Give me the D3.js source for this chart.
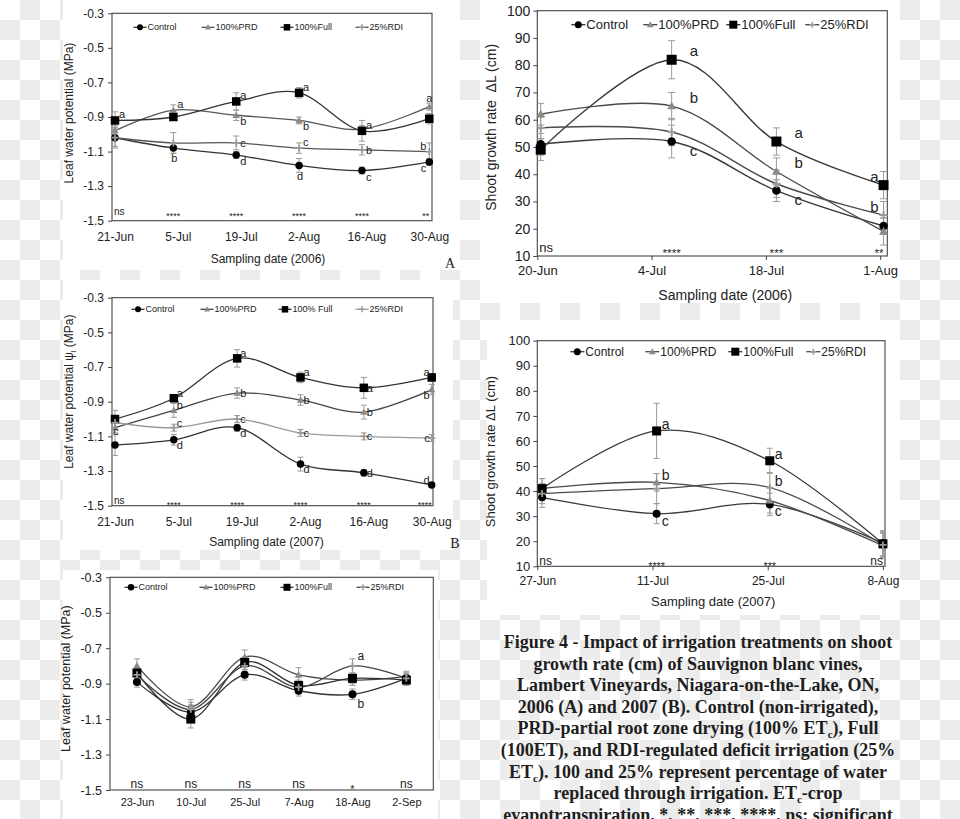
<!DOCTYPE html>
<html><head><meta charset="utf-8">
<script src="https://cdn.jsdelivr.net/npm/d3@7"></script>
<style>body{margin:0;background:#fff;} svg{display:block;}</style>
</head><body><svg id="c" width="960" height="819"></svg>
<script>
// ---------------- DATA ----------------
const seriesNames = ["Control", "100%PRD", "100%Full", "25%RDI"];
const seriesNamesB = ["Control", "100%PRD", "100% Full", "25%RDI"];
const yTicksLWP = [-0.3, -0.5, -0.7, -0.9, -1.1, -1.3, -1.5];
const yTicksGrowth = [10, 20, 30, 40, 50, 60, 70, 80, 90, 100];

// Panel A: leaf water potential 2006
const tickDatesA = ["2006-06-21", "2006-07-05", "2006-07-19", "2006-08-02", "2006-08-16", "2006-08-30"];
const sampleDatesA = ["2006-06-21", "2006-07-04", "2006-07-18", "2006-08-01", "2006-08-15", "2006-08-30"];
const controlA = [-1.02, -1.08, -1.12, -1.18, -1.21, -1.16];
const prdA = [-0.98, -0.86, -0.89, -0.92, -0.97, -0.84];
const fullA = [-0.92, -0.90, -0.81, -0.76, -0.98, -0.91];
const rdiA = [-1.02, -1.05, -1.05, -1.08, -1.09, -1.10];
const controlErrA = [0.05, 0.03, 0.02, 0.04, 0.02, 0.02];
const prdErrA = [0.03, 0.03, 0.03, 0.02, 0.02, 0.02];
const fullErrA = [0.05, 0.02, 0.05, 0.03, 0.06, 0.03];
const rdiErrA = [0.06, 0.06, 0.04, 0.03, 0.03, 0.05];
const controlLetA = ["", "b", "d", "d", "c", "c"];
const prdLetA = ["", "a", "b", "b", "", "a"];
const fullLetA = ["a", "", "a", "a", "a", ""];
const rdiLetA = ["", "", "c", "c", "b", "b"];
const sigA = ["ns", "****", "****", "****", "****", "**"];

// Panel top-right: shoot growth 2006
const tickDatesG6 = ["2006-06-20", "2006-07-04", "2006-07-18", "2006-08-01"];
const sampleDatesG6 = ["2006-06-20T10:00", "2006-07-06T11:00", "2006-07-19T07:00", "2006-08-01T10:00"];
const controlG6 = [51, 52, 34, 21];
const prdG6 = [62, 65, 41, 19];
const fullG6 = [49, 82, 52, 36];
const rdiG6 = [57, 55.5, 36.5, 25];
const controlErrG6 = [4, 6, 4, 3];
const prdErrG6 = [4, 5, 5, 5];
const fullErrG6 = [4, 7, 5, 5];
const rdiErrG6 = [4, 5, 5, 5];
const controlLetG6 = ["", "c", "c", ""];
const prdLetG6 = ["", "b", "b", ""];
const fullLetG6 = ["", "a", "a", "a"];
const rdiLetG6 = ["", "", "", "b"];
const sigG6 = ["ns", "****", "***", "**"];

// Panel B: leaf water potential 2007
const tickDatesB = ["2007-06-21", "2007-07-05", "2007-07-19", "2007-08-02", "2007-08-16", "2007-08-30"];
const sampleDatesB = ["2007-06-21", "2007-07-04", "2007-07-18", "2007-08-01", "2007-08-15", "2007-08-30"];
const controlB = [-1.15, -1.12, -1.05, -1.26, -1.31, -1.38];
const prdB = [-1.05, -0.95, -0.85, -0.89, -0.96, -0.83];
const fullB = [-1.00, -0.88, -0.65, -0.76, -0.82, -0.76];
const rdiB = [-1.02, -1.05, -1.00, -1.08, -1.10, -1.11];
const controlErrB = [0.06, 0.03, 0.02, 0.04, 0.02, 0.01];
const prdErrB = [0.03, 0.04, 0.03, 0.03, 0.04, 0.03];
const fullErrB = [0.05, 0.02, 0.05, 0.03, 0.06, 0.02];
const rdiErrB = [0.03, 0.02, 0.02, 0.02, 0.02, 0.02];
const controlLetB = ["", "d", "d", "d", "d", "d"];
const prdLetB = ["", "b", "b", "b", "b", "b"];
const fullLetB = ["", "a", "a", "a", "a", "a"];
const rdiLetB = ["c", "c", "c", "c", "c", "c"];
const sigB = ["ns", "****", "****", "****", "****", "****"];

// Panel middle-right: shoot growth 2007
const tickDatesG7 = ["2007-06-27", "2007-07-11", "2007-07-25", "2007-08-08"];
const sampleDatesG7 = ["2007-06-27T14:00", "2007-07-11T12:00", "2007-07-25T06:00", "2007-08-08T00:00"];
const controlG7 = [37.5, 31, 34.7, 19.2];
const prdG7 = [41, 43.5, 36.2, 18.2];
const fullG7 = [41, 64, 52.1, 19];
const rdiG7 = [39, 41, 41.4, 18.5];
const controlErrG7 = [4, 4, 4.5, 5];
const prdErrG7 = [4, 3.5, 5, 5];
const fullErrG7 = [4, 11, 5, 5];
const rdiErrG7 = [4, 6, 6, 5];
const controlLetG7 = ["", "c", "c", ""];
const prdLetG7 = ["", "b", "", ""];
const fullLetG7 = ["", "a", "a", ""];
const rdiLetG7 = ["", "", "b", ""];
const sigG7 = ["ns", "****", "***", "ns"];

// Panel bottom-left: leaf water potential 2008
const datesC = ["23-Jun", "10-Jul", "25-Jul", "7-Aug", "18-Aug", "2-Sep"];
const controlC = [-0.89, -1.06, -0.85, -0.94, -0.96, -0.87];
const prdC = [-0.80, -1.03, -0.75, -0.85, -0.88, -0.86];
const fullC = [-0.84, -1.10, -0.78, -0.91, -0.87, -0.88];
const rdiC = [-0.85, -1.045, -0.80, -0.92, -0.80, -0.87];
const controlErrC = [0.03, 0.04, 0.03, 0.03, 0.03, 0.03];
const prdErrC = [0.04, 0.04, 0.04, 0.04, 0.03, 0.03];
const fullErrC = [0.03, 0.05, 0.03, 0.03, 0.03, 0.03];
const rdiErrC = [0.03, 0.04, 0.03, 0.03, 0.04, 0.03];
const controlLetC = ["", "", "", "", "b", ""];
const prdLetC = ["", "", "", "", "", ""];
const fullLetC = ["", "", "", "", "", ""];
const rdiLetC = ["", "", "", "", "a", ""];
const sigC = ["ns", "ns", "ns", "ns", "*", "ns"];

const captionLines = [
  "Figure 4 - Impact of irrigation treatments on shoot",
  "growth rate (cm) of Sauvignon blanc vines,",
  "Lambert Vineyards, Niagara-on-the-Lake, ON,",
  "2006 (A) and 2007 (B). Control (non-irrigated),",
  "PRD-partial root zone drying (100% ET_c), Full",
  "(100ET), and RDI-regulated deficit irrigation (25%",
  "ET_c). 100 and 25% represent percentage of water",
  "replaced through irrigation. ET_c-crop",
  "evapotranspiration. *, **, ***, ****, ns: significant"
];

// ---------------- STYLE / LAYOUT ----------------
const FONT = "'Liberation Sans', Arial, Helvetica, sans-serif";
const SERIF = "'Liberation Serif', 'Times New Roman', serif";
const markerTypes = ["circle", "triangle", "square", "plus"];
const markerFills = ["#000", "#8a8a8a", "#000", "#9a9a9a"];
const parseT = s => d3.timeParse("%Y-%m-%dT%H:%M")(s.length === 10 ? s + "T00:00" : s);
const lwpFmt = d => d.toFixed(1);

const svg = d3.select("#c");
const defs = svg.append("defs");
const pat = defs.append("pattern").attr("id", "chk").attr("width", 40).attr("height", 40)
  .attr("patternUnits", "userSpaceOnUse");
pat.append("rect").attr("width", 40).attr("height", 40).attr("fill", "#fff");
pat.append("rect").attr("x", 20).attr("y", 0).attr("width", 20).attr("height", 20).attr("fill", "#ececec");
pat.append("rect").attr("x", 0).attr("y", 20).attr("width", 20).attr("height", 20).attr("fill", "#ececec");
svg.append("rect").attr("width", 960).attr("height", 819).attr("fill", "url(#chk)");

const panelBg = [[63, 0, 397, 270], [480, 0, 420, 303], [63, 280, 390, 270], [487, 320, 413, 295], [63, 570, 375, 249]];
panelBg.forEach(r => svg.append("rect").attr("x", r[0]).attr("y", r[1]).attr("width", r[2]).attr("height", r[3]).attr("fill", "#fff"));

function drawMarker(g, type, s, color, x, y) {
  if (type === "circle") g.append("circle").attr("cx", x).attr("cy", y).attr("r", s / 2).attr("fill", color);
  else if (type === "square") g.append("rect").attr("x", x - s / 2).attr("y", y - s / 2).attr("width", s).attr("height", s).attr("fill", color);
  else if (type === "triangle") g.append("path").attr("transform", `translate(${x},${y + s * 0.08})`)
    .attr("d", d3.symbol(d3.symbolTriangle, s * s * 0.42)()).attr("fill", color);
  else g.append("path").attr("d", `M${x - s / 2},${y}H${x + s / 2}M${x},${y - s / 2}V${y + s / 2}`)
    .attr("stroke", color).attr("stroke-width", Math.max(1.5, s / 4));
}

function placeLetter(code, p) {
  const L = p.letter;
  const m = {
    r: [L.gapR, 0, "start"], ur: [L.gapR, -L.h, "start"], dr: [L.gapR, L.h, "start"],
    u: [0, -L.h * 1.5, "middle"], d: [1, L.h * 1.7, "middle"],
    l: [-L.gapL, 0, "end"], ul: [-L.gapL, -L.h, "end"], dl: [-L.gapL, L.h, "end"]
  };
  return m[code];
}

function drawPanel(p) {
  const g = svg.append("g");
  const f = p.frame;
  const y = d3.scaleLinear().domain(p.yDomain).range([f.b, f.t]);
  let x, xs, xAxis;
  if (p.xKind === "time") {
    x = d3.scaleTime().domain(p.xDomain.map(parseT)).range(p.xRange);
    xs = p.samples.map(s => x(parseT(s)));
    xAxis = d3.axisBottom(x).tickValues(p.xTicks.map(parseT)).tickFormat(d3.timeFormat("%-d-%b"))
      .tickSize(p.xTickLen).tickPadding(p.xPad);
  } else {
    x = d3.scalePoint().domain(p.cats).range([f.l, f.r]).padding(0.5);
    xs = p.cats.map(c => x(c));
    xAxis = d3.axisBottom(x).tickSize(0).tickPadding(p.xPad);
  }
  // frame
  g.append("rect").attr("x", f.l).attr("y", f.t).attr("width", f.r - f.l).attr("height", f.b - f.t)
    .attr("fill", "none").attr("stroke", "#444").attr("stroke-width", 1.1);
  // y axis
  const ga = g.append("g").attr("transform", `translate(${f.l},0)`)
    .call(d3.axisLeft(y).tickValues(p.yTicks).tickFormat(p.yFmt).tickSize(4).tickPadding(p.yPad));
  ga.attr("font-family", FONT).attr("font-size", p.yFont);
  ga.select(".domain").remove();
  ga.selectAll("line").attr("stroke", "#444");
  ga.selectAll("text").attr("fill", "#222");
  // x axis
  const gx = g.append("g").attr("transform", `translate(0,${f.b})`).call(xAxis);
  gx.attr("font-family", FONT).attr("font-size", p.xFont);
  gx.select(".domain").remove();
  gx.selectAll("line").attr("stroke", "#444");
  gx.selectAll("text").attr("fill", "#222");
  // axis titles
  g.append("text").attr("x", (f.l + f.r) / 2 + p.xTitleDx).attr("y", f.b + p.xTitleDy)
    .attr("text-anchor", "middle").attr("font-family", FONT).attr("font-size", p.titleFont).attr("fill", "#222")
    .text(p.xTitle);
  const yt = g.append("text").attr("transform", `translate(${f.l + p.yTitleDx},${(f.t + f.b) / 2 + p.yTitleDy}) rotate(-90)`)
    .attr("text-anchor", "middle").attr("font-family", FONT).attr("font-size", p.titleFont).attr("fill", "#222")
    .attr("xml:space", "preserve");
  if (p.yTitleSub) {
    yt.append("tspan").text(p.yTitle);
    yt.append("tspan").attr("font-size", p.titleFont * 0.65).attr("dy", 3).text(p.yTitleSub);
    yt.append("tspan").attr("dy", -3).text(p.yTitleEnd);
  } else yt.text(p.yTitle);

  // lines
  const curve = d3.line().x((d, i) => xs[i]).y(d => y(d)).curve(d3.curveCardinal.tension(0));
  p.series.forEach((s, k) => {
    g.append("path").attr("d", curve(s)).attr("fill", "none").attr("stroke", p.lineColors[k]).attr("stroke-width", p.lineW);
  });
  // error bars
  p.errors.forEach((e, k) => {
    e.forEach((v, i) => {
      const cx = xs[i], y1 = y(p.series[k][i] - v), y2 = y(p.series[k][i] + v);
      const eg = g.append("g").attr("stroke", "#9a9a9a").attr("stroke-width", 1);
      eg.append("line").attr("x1", cx).attr("x2", cx).attr("y1", y1).attr("y2", y2);
      eg.append("line").attr("x1", cx - p.cap).attr("x2", cx + p.cap).attr("y1", y1).attr("y2", y1);
      eg.append("line").attr("x1", cx - p.cap).attr("x2", cx + p.cap).attr("y1", y2).attr("y2", y2);
    });
  });
  // markers
  p.series.forEach((s, k) => {
    s.forEach((v, i) => drawMarker(g, markerTypes[k], p.msize[k], markerFills[k], xs[i], y(v)));
  });
  // letters
  p.letters.forEach((arr, k) => {
    arr.forEach((t, i) => {
      if (!t) return;
      const pl = placeLetter(p.letterPos[k][i], p);
      g.append("text").attr("x", xs[i] + pl[0]).attr("y", y(p.series[k][i]) + pl[1])
        .attr("text-anchor", pl[2]).attr("dominant-baseline", "central")
        .attr("font-family", FONT).attr("font-size", p.letterFont).attr("fill", "#222").text(t);
    });
  });
  // significance
  p.sig.forEach((t, i) => {
    let anchor = "middle", dx = 0;
    if (p.sigEdge && i === 0) { anchor = "start"; dx = f.l + 2 - xs[i]; }
    if (p.sigEdge && i === p.sig.length - 1) { anchor = "end"; dx = Math.min(0, f.r - 1 - xs[i]) + p.sigEndDx; }
    const star = /^\*+$/.test(t);
    g.append("text").attr("x", xs[i] + dx).attr("y", f.b - p.sigUp + (star ? p.sigFont * 0.42 : 0))
      .attr("text-anchor", anchor).attr("font-family", FONT)
      .attr("font-size", star ? p.sigFont * 0.9 : p.sigFont).attr("fill", "#222").text(t);
  });
  // legend
  p.legendNames.forEach((nm, k) => {
    const lx = f.l + p.legend.xs[k], ly = f.t + p.legend.dy;
    g.append("line").attr("x1", lx - p.legend.half).attr("x2", lx + p.legend.half).attr("y1", ly).attr("y2", ly)
      .attr("stroke", p.lineColors[k]).attr("stroke-width", p.lineW);
    drawMarker(g, markerTypes[k], p.legend.m[k], markerFills[k], lx, ly);
    g.append("text").attr("x", lx + p.legend.half + 1).attr("y", ly).attr("dominant-baseline", "central")
      .attr("font-family", FONT).attr("font-size", p.legend.font).attr("fill", "#222").text(nm);
  });
}

// Panel A
drawPanel({
  frame: { l: 112, r: 432, t: 13.3, b: 220.7 },
  yDomain: [-1.5, -0.3], yTicks: yTicksLWP, yFmt: lwpFmt, yFont: 12, yPad: 4,
  xKind: "time", xDomain: [tickDatesA[0], tickDatesA[5]], xRange: [115, 429.3], xTicks: tickDatesA, samples: sampleDatesA,
  xTickLen: 0, xPad: 12, xFont: 12,
  xTitle: "Sampling date (2006)", xTitleDy: 42, xTitleDx: -4, titleFont: 12,
  yTitle: "Leaf water potential (MPa)", yTitleDx: -39, yTitleDy: -4,
  series: [controlA, prdA, fullA, rdiA], errors: [controlErrA, prdErrA, fullErrA, rdiErrA],
  lineColors: ["#333", "#555", "#333", "#555"], lineW: 1.3, msize: [7.5, 7.5, 8.5, 7], cap: 3,
  letters: [controlLetA, prdLetA, fullLetA, rdiLetA],
  letterPos: [["", "d", "dr", "d", "dr", "dl"], ["", "ur", "dr", "dr", "", "u"], ["ur", "", "ur", "ur", "ur", ""], ["", "", "r", "ur", "r", "ul"]],
  letter: { gapR: 4, gapL: 3, h: 6 }, letterFont: 11,
  sig: sigA, sigFont: 10, sigUp: 6, sigEdge: true, sigEndDx: 0,
  legendNames: seriesNames, legend: { xs: [28, 96, 175, 250], dy: 14, half: 6.5, font: 9, m: [6, 6, 6.5, 6] }
});

// Panel top-right
drawPanel({
  frame: { l: 537.3, r: 887.3, t: 10.7, b: 256 },
  yDomain: [10, 100], yTicks: yTicksGrowth, yFmt: d3.format("d"), yFont: 14, yPad: 3,
  xKind: "time", xDomain: ["2006-06-20", "2006-08-01T21:00"], xRange: [537.3, 887.3], xTicks: tickDatesG6, samples: sampleDatesG6,
  xTickLen: 4, xPad: 6, xFont: 13,
  xTitle: "Sampling date (2006)", xTitleDy: 44, xTitleDx: 13, titleFont: 14,
  yTitle: "Shoot growth rate  \u0394L (cm)", yTitleDx: -41, yTitleDy: -6,
  series: [controlG6, prdG6, fullG6, rdiG6], errors: [controlErrG6, prdErrG6, fullErrG6, rdiErrG6],
  lineColors: ["#3a3a3a", "#4a4a4a", "#3a3a3a", "#4a4a4a"], lineW: 1.4, msize: [8.5, 9, 10, 8], cap: 3.5,
  letters: [controlLetG6, prdLetG6, fullLetG6, rdiLetG6],
  letterPos: [["", "dr", "dr", ""], ["", "ur", "ur", ""], ["", "ur", "ur", "ul"], ["", "", "", "ul"]],
  letter: { gapR: 18, gapL: 5, h: 9 }, letterFont: 15,
  sig: sigG6, sigFont: 13, sigUp: 4, sigEdge: true, sigEndDx: 0,
  legendNames: seriesNames, legend: { xs: [41, 113, 196, 275], dy: 14, half: 7, font: 13, m: [7, 7, 8, 6] }
});

// Panel B
drawPanel({
  frame: { l: 112, r: 433, t: 297.7, b: 505.7 },
  yDomain: [-1.5, -0.3], yTicks: yTicksLWP, yFmt: lwpFmt, yFont: 12, yPad: 4,
  xKind: "time", xDomain: [tickDatesB[0], tickDatesB[5]], xRange: [115, 431.7], xTicks: tickDatesB, samples: sampleDatesB,
  xTickLen: 0, xPad: 12, xFont: 12,
  xTitle: "Sampling date (2007)", xTitleDy: 40, xTitleDx: -6, titleFont: 12,
  yTitle: "Leaf water potential \u03c8", yTitleSub: "l", yTitleEnd: " (MPa)", yTitleDx: -39, yTitleDy: -10,
  series: [controlB, prdB, fullB, rdiB], errors: [controlErrB, prdErrB, fullErrB, rdiErrB],
  lineColors: ["#333", "#444", "#333", "#9a9a9a"], lineW: 1.3, msize: [7.5, 7.5, 8.5, 7], cap: 3,
  letters: [controlLetB, prdLetB, fullLetB, rdiLetB],
  letterPos: [["", "dr", "dr", "dr", "r", "ul"], ["", "ur", "r", "r", "r", "dl"], ["", "ur", "ur", "ur", "r", "ul"], ["d", "ur", "r", "r", "r", "l"]],
  letter: { gapR: 3, gapL: 2, h: 5 }, letterFont: 11,
  sig: sigB, sigFont: 10, sigUp: 2, sigEdge: true, sigEndDx: 0,
  legendNames: seriesNamesB, legend: { xs: [26, 95, 173, 250], dy: 11.6, half: 6.5, font: 9, m: [6, 6, 6.5, 6] }
});

// Panel middle-right
drawPanel({
  frame: { l: 537.3, r: 885, t: 340.7, b: 566.3 },
  yDomain: [10, 100], yTicks: yTicksGrowth, yFmt: d3.format("d"), yFont: 13, yPad: 3,
  xKind: "time", xDomain: ["2007-06-27", "2007-08-08T06:00"], xRange: [537.3, 885], xTicks: tickDatesG7, samples: sampleDatesG7,
  xTickLen: 4, xPad: 6, xFont: 12,
  xTitle: "Sampling date (2007)", xTitleDy: 40, xTitleDx: 2, titleFont: 13,
  yTitle: "Shoot growth rate \u0394L (cm)", yTitleDx: -42, yTitleDy: -2,
  series: [controlG7, prdG7, fullG7, rdiG7], errors: [controlErrG7, prdErrG7, fullErrG7, rdiErrG7],
  lineColors: ["#3a3a3a", "#4a4a4a", "#3a3a3a", "#4a4a4a"], lineW: 1.3, msize: [8, 8, 9, 7], cap: 3,
  letters: [controlLetG7, prdLetG7, fullLetG7, rdiLetG7],
  letterPos: [["", "dr", "dr", ""], ["", "ur", "", ""], ["", "ur", "ur", ""], ["", "", "ur", ""]],
  letter: { gapR: 5, gapL: 4, h: 7 }, letterFont: 14,
  sig: sigG7, sigFont: 12, sigUp: 1, sigEdge: true, sigEndDx: 0,
  legendNames: seriesNames, legend: { xs: [40, 115, 198, 276], dy: 11, half: 7, font: 12, m: [7, 7, 8, 6] }
});

// Panel bottom-left
drawPanel({
  frame: { l: 110, r: 433.3, t: 577.3, b: 790 },
  yDomain: [-1.5, -0.3], yTicks: yTicksLWP, yFmt: lwpFmt, yFont: 12.5, yPad: 4,
  xKind: "point", cats: datesC, xPad: 8, xFont: 11,
  xTitle: "Sampling Date (2008)", xTitleDy: 39, xTitleDx: -10, titleFont: 12.5,
  yTitle: "Leaf water potential (MPa)", yTitleDx: -40, yTitleDy: -5,
  series: [controlC, prdC, fullC, rdiC], errors: [controlErrC, prdErrC, fullErrC, rdiErrC],
  lineColors: ["#333", "#444", "#333", "#444"], lineW: 1.3, msize: [8, 8, 9, 7], cap: 3,
  letters: [controlLetC, prdLetC, fullLetC, rdiLetC],
  letterPos: [["", "", "", "", "dr", ""], ["", "", "", "", "", ""], ["", "", "", "", "", ""], ["", "", "", "", "ur", ""]],
  letter: { gapR: 5, gapL: 4, h: 10 }, letterFont: 12,
  sig: sigC, sigFont: 12, sigUp: 2, sigEdge: false, sigEndDx: 0,
  legendNames: seriesNames, legend: { xs: [21, 96, 177, 253], dy: 10, half: 6.5, font: 9, m: [6.5, 6, 7, 6] }
});

// Panel letters
svg.append("text").attr("x", 450).attr("y", 268).attr("text-anchor", "middle").attr("font-family", SERIF)
  .attr("font-size", 14).attr("fill", "#222").text("A");
svg.append("text").attr("x", 455).attr("y", 548).attr("text-anchor", "middle").attr("font-family", SERIF)
  .attr("font-size", 14).attr("fill", "#222").text("B");

// Caption
const cap = svg.append("text").attr("font-family", SERIF).attr("font-weight", "bold").attr("font-size", 18)
  .attr("fill", "#1e1e1e").attr("text-anchor", "middle");
captionLines.forEach((ln, i) => {
  const t = svg.append("text").attr("x", 698).attr("y", 648 + i * 21.6).attr("font-family", SERIF)
    .attr("font-weight", "bold").attr("font-size", 18).attr("fill", "#1e1e1e").attr("text-anchor", "middle")
    .attr("xml:space", "preserve");
  const parts = ln.split("_c");
  parts.forEach((pt, j) => {
    if (j > 0) { t.append("tspan").attr("font-size", 11).attr("dy", 4).text("c"); t.append("tspan").attr("dy", -4).text(pt); }
    else t.append("tspan").text(pt);
  });
});
</script></body></html>
